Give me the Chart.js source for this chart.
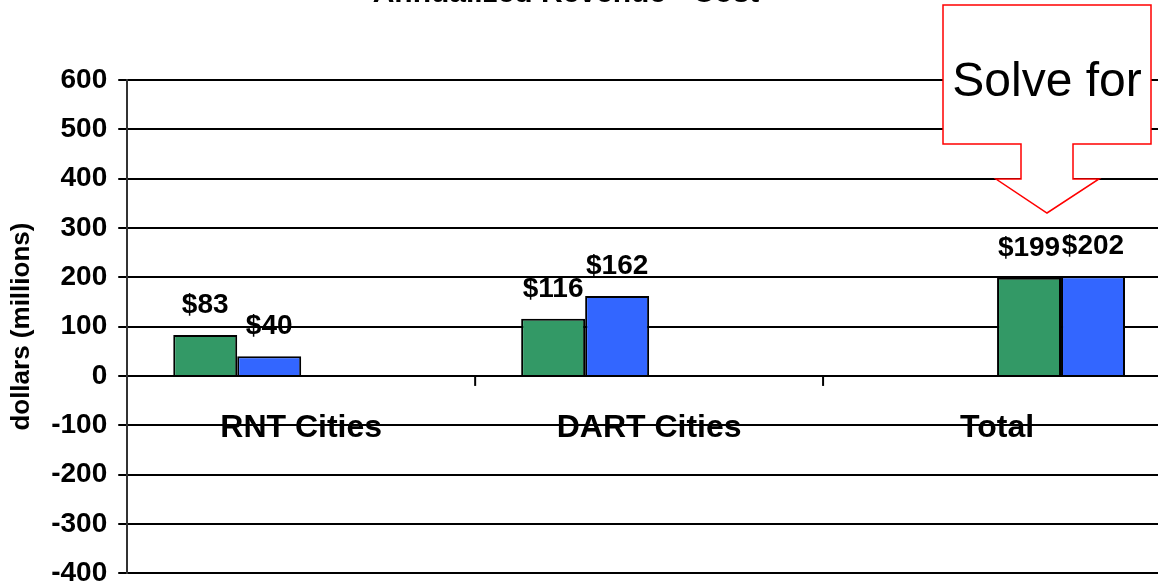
<!DOCTYPE html>
<html>
<head>
<meta charset="utf-8">
<title>Annualized Revenue - Cost</title>
<script src="https://cdn.jsdelivr.net/npm/chart.js@4/dist/chart.umd.min.js"></script>
<style>
  html, body { margin: 0; padding: 0; background: #fff; overflow: hidden; }
  #wrap { width: 1180px; height: 601px; position: relative; }
</style>
</head>
<body>
<div id="wrap"><canvas id="revChart"></canvas></div>
<script>
// chart data
const categories = ['RNT Cities', 'DART Cities', 'Total'];
const revenue = [83, 116, null];
const cost = [40, 162, null];
const totalRevenue = [null, null, 199];
const totalCost = [null, null, 202];
const yTicks = [600, 500, 400, 300, 200, 100, 0, -100, -200, -300, -400];

const FONT = '"Liberation Sans", Arial, sans-serif';
const GREEN = '#339966';
const BLUE = '#3366FF';

// title, value labels, category labels on the zero line, callout
const extras = {
    id: 'extras',
    afterDatasetsDraw(chart) {
        const ctx = chart.ctx;
        const x = chart.scales.x;
        const y = chart.scales.y;
        ctx.save();
        ctx.fillStyle = '#000';

        // value labels above bars
        ctx.font = 'bold 28px ' + FONT;
        ctx.textAlign = 'center';
        ctx.textBaseline = 'alphabetic';
        chart.data.datasets.forEach((ds, i) => {
            const meta = chart.getDatasetMeta(i);
            meta.data.forEach((bar, j) => {
                const v = ds.data[j];
                if (v === null || v === undefined) return;
                ctx.fillText('$' + v, bar.x, bar.y - 22);
            });
        });

        // tick marks between categories on the zero line
        const y0 = y.getPixelForValue(0);
        ctx.strokeStyle = '#000';
        ctx.lineWidth = 2;
        for (let i = 1; i < categories.length; i++) {
            const px = (x.getPixelForValue(i - 1) + x.getPixelForValue(i)) / 2;
            ctx.beginPath();
            ctx.moveTo(px, y0);
            ctx.lineTo(px, y0 + 10);
            ctx.stroke();
        }

        // category labels
        ctx.font = 'bold 32px ' + FONT;
        categories.forEach((c, i) => {
            ctx.fillText(c, x.getPixelForValue(i), y0 + 61);
        });

        // title (mostly off the top edge)
        ctx.font = 'bold 30px ' + FONT;
        ctx.fillText('Annualized Revenue - Cost', 566, 2);

        // "Solve for" callout
        ctx.beginPath();
        ctx.moveTo(943, 5);
        ctx.lineTo(1151, 5);
        ctx.lineTo(1151, 144);
        ctx.lineTo(1073, 144);
        ctx.lineTo(1073, 179);
        ctx.lineTo(1099, 179);
        ctx.lineTo(1047, 213);
        ctx.lineTo(996, 179);
        ctx.lineTo(1021, 179);
        ctx.lineTo(1021, 144);
        ctx.lineTo(943, 144);
        ctx.closePath();
        ctx.fillStyle = '#fff';
        ctx.fill();
        ctx.strokeStyle = '#FF0000';
        ctx.lineWidth = 1.5;
        ctx.stroke();
        ctx.fillStyle = '#000';
        ctx.font = '48px ' + FONT;
        ctx.fillText('Solve for', 1047, 96);
        ctx.restore();
    }
};

const barStyle = { borderColor: '#000', borderWidth: 2, borderSkipped: 'bottom' };

new Chart(document.getElementById('revChart').getContext('2d'), {
    type: 'bar',
    data: {
        labels: categories,
        datasets: [
            Object.assign({ label: 'Revenue', data: revenue, backgroundColor: GREEN }, barStyle),
            Object.assign({ label: 'Cost', data: cost, backgroundColor: BLUE }, barStyle),
            Object.assign({ label: 'Total Revenue', data: totalRevenue, backgroundColor: GREEN }, barStyle),
            Object.assign({ label: 'Total Cost', data: totalCost, backgroundColor: BLUE }, barStyle),
        ],
    },
    options: {
        responsive: true,
        maintainAspectRatio: false,
        animation: false,
        categoryPercentage: 0.7356,
        barPercentage: 1,
        layout: { padding: { top: 80, right: 9, bottom: 0, left: 1 } },
        plugins: {
            legend: { display: false },
            tooltip: { enabled: false },
            title: { display: false },
        },
        scales: {
            x: {
                display: false,
            },
            y: {
                min: -400,
                max: 600,
                afterBuildTicks: (axis) => {
                    axis.ticks = yTicks.map(v => ({ value: v }));
                },
                ticks: {
                    color: '#000',
                    font: { family: FONT, size: 28, weight: 'bold' },
                    padding: 11,
                },
                grid: {
                    color: '#000',
                    lineWidth: 2,
                    tickLength: 9,
                },
                border: { color: '#333', width: 2 },
                title: {
                    display: true,
                    text: 'dollars (millions)',
                    color: '#000',
                    font: { family: FONT, size: 26, weight: 'bold' },
                    padding: { top: 5, bottom: 3 },
                },
            },
        },
    },
    plugins: [extras],
});
</script>
</body>
</html>
